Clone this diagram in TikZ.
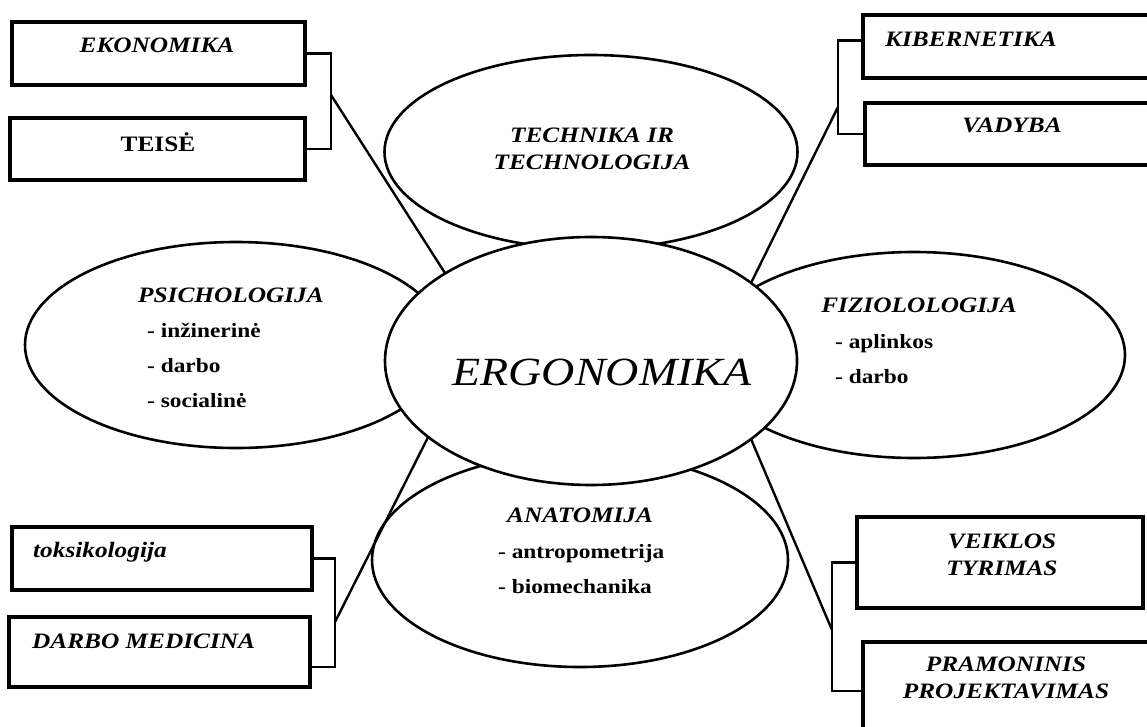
\documentclass[tikz,border=0pt]{standalone}
\usepackage{fontspec}
\setmainfont{Liberation Serif}[FakeStretch=1.15]
\usetikzlibrary{shapes.geometric}
\tikzset{
  oval/.style={ellipse, draw, line width=2.6pt, fill=white, inner sep=0pt, outer sep=0pt},
  box/.style={rectangle, draw, line width=3.2pt, fill=white, inner sep=0pt},
  link/.style={line width=2.4pt},
  hd/.style={font=\fontsize{22}{27}\selectfont\bfseries\itshape, inner sep=0pt, align=center},
  sub/.style={font=\fontsize{20.3}{35}\selectfont\bfseries, inner sep=0pt, align=left, anchor=base west},
}
\begin{document}
\begin{tikzpicture}[x=1pt, y=-1pt]
  \useasboundingbox (0,0) rectangle (1147,727);
  \clip (0,0) rectangle (1147,727);
  \node[box, minimum width=293pt, minimum height=63pt] (ekon) at (158.5,53.5) {};
  \node[box, minimum width=295pt, minimum height=62pt] (teise) at (157.5,149) {};
  \node[box, minimum width=289pt, minimum height=63pt] (kib) at (1007.5,46.5) {};
  \node[box, minimum width=287pt, minimum height=62pt] (vad) at (1008.5,134) {};
  \node[box, minimum width=300pt, minimum height=63pt] (toks) at (162,558.5) {};
  \node[box, minimum width=301pt, minimum height=70pt] (dmed) at (159.5,652) {};
  \node[box, minimum width=286pt, minimum height=91pt] (veik) at (1000,562.5) {};
  \node[box, minimum width=289pt, minimum height=98pt] (pram) at (1007.5,691) {};
  \node[oval, minimum width=413pt, minimum height=194pt] (tech) at (591,152) {};
  \node[oval, minimum width=422pt, minimum height=206pt] (psich) at (236,345) {};
  \node[oval, minimum width=422pt, minimum height=206pt] (fiz) at (914,355) {};
  \node[oval, minimum width=416pt, minimum height=214pt] (anat) at (580,560) {};
  \coordinate (jl1) at (331,95);
  \coordinate (jr1) at (838,107);
  \coordinate (jl2) at (335,622);
  \coordinate (jr2) at (832,630);
  \draw[link] (ekon.east) -| (jl1) |- (teise.east);
  \draw[link] ([yshift=6pt]kib.west) -| (jr1) |- (vad.west);
  \draw[link] (toks.east) -| (jl2) |- ([yshift=-15pt]dmed.east);
  \draw[link] (veik.west) -| (jr2) |- (pram.west);
  \node[oval, minimum width=412pt, minimum height=248pt] (ergo) at (591,361) {};
  \draw[link] (jl1) -- (ergo.149);
  \draw[link] (jr1) -- (ergo.26);
  \draw[link] (jl2) -- (ergo.205);
  \draw[link] (jr2) -- (ergo.334);
  \node[hd, anchor=base] (ekont) at (157,53) {EKONOMIKA};
  \node[hd, anchor=base, font=\fontsize{22}{27}\selectfont\bfseries] (teiset) at (158,152) {TEISĖ};
  \node[hd, anchor=base west] (kibt) at (885,47) {KIBERNETIKA};
  \node[hd, anchor=base] (vadt) at (1012,133) {VADYBA};
  \node[hd, anchor=base west] (tokst) at (33,557) {toksikologija};
  \node[hd, anchor=base west] (dmedt) at (32,648) {DARBO MEDICINA};
  \node[hd, anchor=base] (veikt) at (1002,575) {VEIKLOS\\TYRIMAS};
  \node[hd, anchor=base] (pramt) at (1006,698) {PRAMONINIS\\PROJEKTAVIMAS};
  \node[hd, anchor=base] (techt) at (592,170) {TECHNIKA IR\\TECHNOLOGIJA};
  \node[hd, anchor=base] (psicht) at (231,302) {PSICHOLOGIJA};
  \node[sub] (psichl) at (147,407) {- inžinerinė\\- darbo\\- socialinė};
  \node[hd, anchor=base] (fizt) at (919,312) {FIZIOLOLOGIJA};
  \node[sub] (fizl) at (835,383) {- aplinkos\\- darbo};
  \node[hd, anchor=base] (anatt) at (580,522) {ANATOMIJA};
  \node[sub] (anatl) at (498,593) {- antropometrija\\- biomechanika};
  \node[font=\fontsize{40}{48}\selectfont\itshape, anchor=base, inner sep=0pt] (ergot) at (602,385) {ERGONOMIKA};
\end{tikzpicture}
\end{document}
